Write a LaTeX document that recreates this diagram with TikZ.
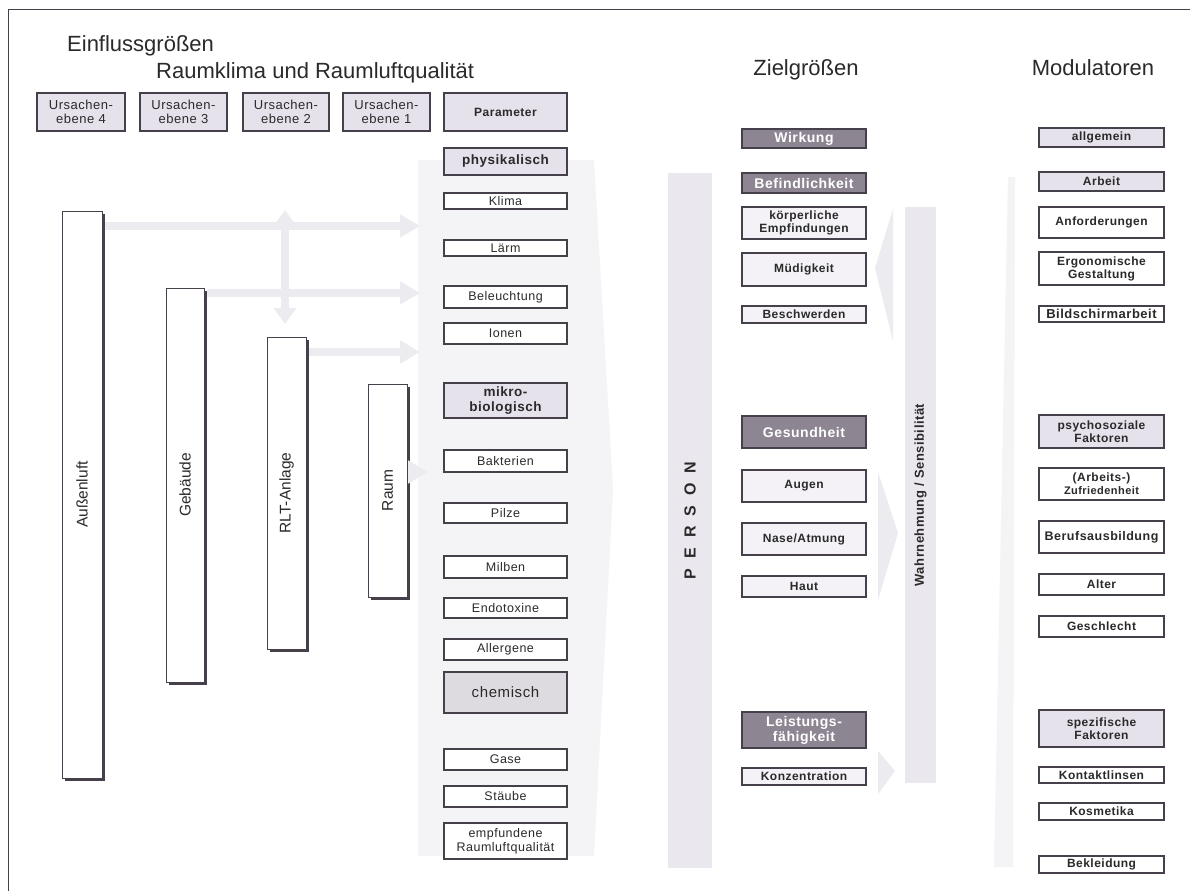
\documentclass[tikz,border=0pt]{standalone}
\usepackage{fontspec}
\setmainfont{Liberation Sans}
\newfontfamily\bxf[LetterSpace=4]{Liberation Sans}
\usetikzlibrary{arrows.meta,shadows}
\definecolor{edge}{HTML}{45404A}
\definecolor{lav}{HTML}{E6E2EC}
\definecolor{pale}{HTML}{F4F2F6}
\definecolor{darkf}{HTML}{8D8592}
\definecolor{chem}{HTML}{DEDBE0}
\definecolor{faint}{HTML}{ECEBF0}
\definecolor{bandc}{HTML}{EAE8EE}
\definecolor{bandl}{HTML}{F4F3F6}
\definecolor{ink}{HTML}{2A2A2A}
\newcommand\fsz[2]{\fontsize{#1}{#2}\selectfont}
\newcommand\mkbox[7]{\node[#1, minimum width={#4-#2}, minimum height={#5-#3}] (#6) at ({(#2+#4)/2},{(#3+#5)/2}) {#7};}
\tikzset{
  box/.style={draw=edge, line width=1.2pt, inner sep=0pt, align=center, text=ink},
  lavbox/.style={box, fill=lav},
  whitebox/.style={box, fill=white},
  palebox/.style={box, fill=pale},
  darkbox/.style={box, fill=darkf, text=white},
  chembox/.style={box, fill=chem},
  bar/.style={draw=edge, line width=0.8pt, fill=white, inner sep=0pt, text=ink,
    font=\fsz{15.5}{17},
    drop shadow={shadow xshift=2.5pt, shadow yshift=-2.5pt, fill=edge, opacity=1}},
  fa/.style={draw=faint, line width=8pt, -{Triangle[length=20pt,width=22pt]}},
  fab/.style={draw=faint, line width=8pt, {Triangle[length=16pt,width=22pt]}-{Triangle[length=16pt,width=22pt]}},
  ttl/.style={font=\fsz{22}{26}, text=ink, inner sep=0pt},
  parf/.style={font=\bxf\fsz{12.5}{14}},
  zf/.style={font=\bxf\bfseries\fsz{12}{13}},
  zdf/.style={font=\bxf\bfseries\fsz{14}{15}},
  mf/.style={font=\bxf\bfseries\fsz{12}{13}},
}
\begin{document}
\begin{tikzpicture}[x=1pt,y=-1pt]
\useasboundingbox (0,0) rectangle (1190,891);
\fill[white] (0,0) rectangle (1190,891);
\draw[edge, line width=1pt] (8,891) -- (8,10) -- (1190,10);

% titles
\node[ttl, anchor=base west] (t1) at (67,52) {Einflussgrößen};
\node[ttl, anchor=base west] (t2) at (156,78) {Raumklima und Raumluftqualität};
\node[ttl, anchor=base] (t3) at (806,75) {Zielgrößen};
\node[ttl, anchor=base] (t4) at (1093,75) {Modulatoren};

% faint background shapes
\fill[bandl] (418,160) -- (594,160) -- (613,490) -- (594,856) -- (418,856) -- cycle;
\fill[faint] (893,209) -- (875,268) -- (893,341) -- cycle;
\fill[faint] (878,472) -- (898,533) -- (878,600) -- cycle;
\fill[faint] (878,751) -- (895,771) -- (878,794) -- cycle;
\fill[bandl] (1008,177) -- (1015,177) -- (1013,867) -- (994,867) -- cycle;

\node[fill=bandc, inner sep=0pt, minimum width=44, minimum height=695] (person) at (690,520.5)
  {\rotatebox{90}{\bfseries\fsz{16}{18}\color{ink}P\kern10pt E\kern10pt R\kern10pt S\kern10pt O\kern10pt N}};
\node[fill=bandc, inner sep=0pt, minimum width=31, minimum height=576] (wahr) at (920.5,495)
  {\rotatebox{90}{\bxf\bfseries\fsz{13}{14}\color{ink}Wahrnehmung / Sensibilität}};

% vertical bars
\mkbox{bar}{62}{211}{102}{778}{aussen}{\rotatebox{90}{Außenluft}}
\mkbox{bar}{166}{288}{204}{682}{gebaeude}{\rotatebox{90}{Gebäude}}
\mkbox{bar}{267}{337}{306}{649}{rlt}{\rotatebox{90}{RLT-Anlage}}
\mkbox{bar}{368}{384}{407}{597}{raum}{\rotatebox{90}{Raum}}

% faint arrows
\coordinate (a1) at (420,226);
\coordinate (a2) at (420,293);
\coordinate (a3) at (420,352);
\coordinate (a4) at (428,472);
\coordinate (v1) at (285,210);
\coordinate (v2) at (285,324);
\draw[fa] ([xshift=3pt]aussen.east |- a1) -- (a1);
\draw[fa] ([xshift=3pt]gebaeude.east |- a2) -- (a2);
\draw[fa] ([xshift=3pt]rlt.east |- a3) -- (a3);
\draw[fa] ([xshift=3pt]raum.east |- a4) -- (a4);
\draw[fab] (v1) -- (v2);

% top row
\mkbox{lavbox, font=\bxf\fsz{13}{14.5}}{37}{93}{125}{131}{u4}{Ursachen-\\ebene 4}
\mkbox{lavbox, font=\bxf\fsz{13}{14.5}}{140}{93}{227}{131}{u3}{Ursachen-\\ebene 3}
\mkbox{lavbox, font=\bxf\fsz{13}{14.5}}{243}{93}{329}{131}{u2}{Ursachen-\\ebene 2}
\mkbox{lavbox, font=\bxf\fsz{13}{14.5}}{343}{93}{430}{131}{u1}{Ursachen-\\ebene 1}
\mkbox{lavbox, font=\bxf\bfseries\fsz{12}{13}}{444}{93}{567}{131}{param}{Parameter}

% parameter column
\mkbox{lavbox, font=\bxf\bfseries\fsz{13.5}{15}}{444}{148}{567}{175}{phys}{physikalisch}
\mkbox{whitebox, parf}{444}{193}{567}{209}{klima}{Klima}
\mkbox{whitebox, parf}{444}{240}{567}{256}{laerm}{Lärm}
\mkbox{whitebox, parf}{444}{286}{567}{308}{bel}{Beleuchtung}
\mkbox{whitebox, parf}{444}{323}{567}{344}{ionen}{Ionen}
\mkbox{lavbox, font=\bxf\bfseries\fsz{13.5}{15}}{444}{383}{567}{418}{mikro}{mikro-\\biologisch}
\mkbox{whitebox, parf}{444}{450}{567}{472}{bakt}{Bakterien}
\mkbox{whitebox, parf}{444}{503}{567}{523}{pilze}{Pilze}
\mkbox{whitebox, parf}{444}{556}{567}{578}{milben}{Milben}
\mkbox{whitebox, parf}{444}{598}{567}{618}{endo}{Endotoxine}
\mkbox{whitebox, parf}{444}{639}{567}{660}{allerg}{Allergene}
\mkbox{chembox, font=\bxf\fsz{15}{16}}{444}{672}{567}{713}{chem}{chemisch}
\mkbox{whitebox, parf}{444}{749}{567}{770}{gase}{Gase}
\mkbox{whitebox, parf}{444}{786}{567}{807}{staub}{Stäube}
\mkbox{whitebox, parf}{444}{823}{567}{859}{empf}{empfundene\\Raumluftqualität}

% Zielgroessen
\mkbox{darkbox, zdf}{742}{129}{866}{148}{wirk}{Wirkung}
\mkbox{darkbox, zdf}{742}{173}{866}{193}{befind}{Befindlichkeit}
\mkbox{palebox, zf}{742}{207}{866}{239}{koerp}{körperliche\\Empfindungen}
\mkbox{palebox, zf}{742}{253}{866}{286}{muede}{Müdigkeit}
\mkbox{palebox, zf}{742}{306}{866}{323}{beschw}{Beschwerden}
\mkbox{darkbox, zdf}{742}{416}{866}{448}{gesund}{Gesundheit}
\mkbox{palebox, zf}{742}{470}{866}{502}{augen}{Augen}
\mkbox{palebox, zf}{742}{523}{866}{555}{nase}{Nase/Atmung}
\mkbox{palebox, zf}{742}{576}{866}{597}{haut}{Haut}
\mkbox{darkbox, zdf}{742}{712}{866}{748}{leist}{Leistungs-\\fähigkeit}
\mkbox{palebox, zf}{742}{768}{866}{785}{konz}{Konzentration}

% Modulatoren
\mkbox{lavbox, mf}{1039}{128}{1164}{147}{allg}{allgemein}
\mkbox{lavbox, mf}{1039}{172}{1164}{191}{arbeit}{Arbeit}
\mkbox{whitebox, mf}{1039}{207}{1164}{238}{anford}{Anforderungen}
\mkbox{whitebox, mf}{1039}{252}{1164}{285}{ergo}{Ergonomische\\Gestaltung}
\mkbox{whitebox, font=\bxf\bfseries\fsz{13}{14}}{1039}{306}{1164}{322}{bild}{Bildschirmarbeit}
\mkbox{lavbox, mf}{1039}{415}{1164}{448}{psycho}{psychosoziale\\Faktoren}
\mkbox{whitebox, mf}{1039}{468}{1164}{500}{zufr}{(Arbeits-)\\{\fsz{11}{12}Zufriedenheit}}
\mkbox{whitebox, font=\bxf\bfseries\fsz{12.5}{14}}{1039}{521}{1164}{553}{beruf}{Berufsausbildung}
\mkbox{whitebox, mf}{1039}{574}{1164}{595}{alter}{Alter}
\mkbox{whitebox, mf}{1039}{616}{1164}{637}{geschl}{Geschlecht}
\mkbox{lavbox, mf}{1039}{710}{1164}{747}{spez}{spezifische\\Faktoren}
\mkbox{whitebox, mf}{1039}{767}{1164}{783}{kontakt}{Kontaktlinsen}
\mkbox{whitebox, mf}{1039}{803}{1164}{820}{kosm}{Kosmetika}
\mkbox{whitebox, mf}{1039}{856}{1164}{873}{bekl}{Bekleidung}
\end{tikzpicture}
\end{document}
